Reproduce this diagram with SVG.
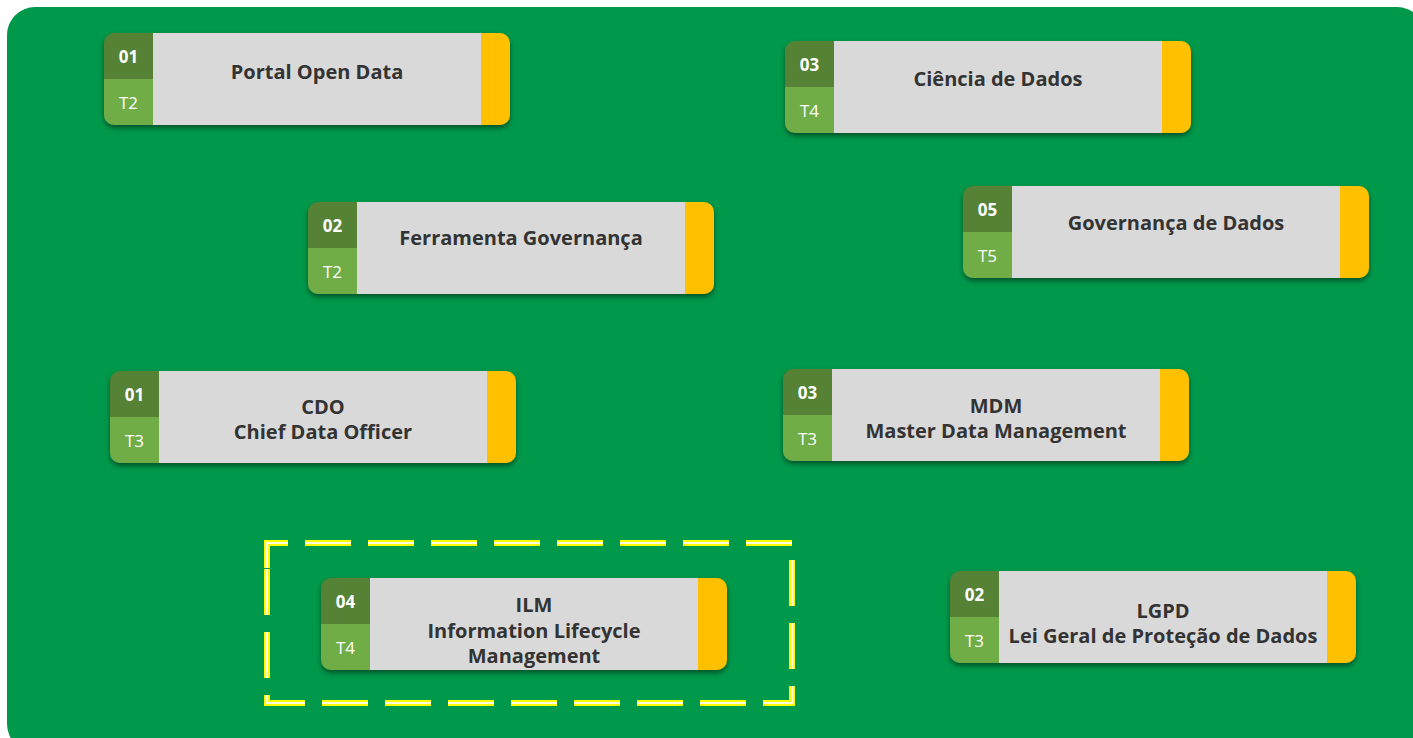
<svg xmlns="http://www.w3.org/2000/svg" width="1413" height="738" viewBox="0 0 1413 738">
<defs>
<filter id="sh" x="-5%" y="-10%" width="110%" height="130%">
<feDropShadow dx="0" dy="3" stdDeviation="2.5" flood-color="#000" flood-opacity="0.45"/>
</filter>
<g id="card">
<path d="M377 0H396A10 10 0 0 1 406 10V82A10 10 0 0 1 396 92H377Z" fill="#FFC000"/>
<rect x="49" y="0" width="328" height="92" fill="#D9D9D9"/>
<path d="M49 0H10A10 10 0 0 0 0 10V46H49Z" fill="#548235"/>
<path d="M0 46V82A10 10 0 0 0 10 92H49V46Z" fill="#70AD47"/>
</g>
</defs>
<style>
.num{font-family:"Open Sans","Noto Sans",sans-serif;font-weight:700;font-size:17px;fill:#fff;text-anchor:middle}
.tier{font-family:"Open Sans","Noto Sans",sans-serif;font-weight:400;font-size:17px;fill:#fff;text-anchor:middle}
.lbl{font-family:"Open Sans","Noto Sans",sans-serif;font-weight:700;font-size:20px;fill:#333;text-anchor:middle}
</style>
<rect x="0" y="0" width="1413" height="738" fill="#fff"/>
<rect x="7" y="7" width="1418" height="745" rx="28" fill="#00984A"/>

<g id="connectors">
<path d="M267 568V543H792V703H267Z" fill="none" stroke="#FFFF00" stroke-width="6" stroke-dasharray="46 17"/>
<path d="M267 568V543H792V703H267Z" fill="none" stroke="#FFFFE0" stroke-width="2" stroke-dasharray="46 17"/>
</g>

<g id="n1" transform="translate(104,33)">
<use href="#card" filter="url(#sh)"/>
<text class="num" x="24.5" y="30">01</text>
<text class="tier" x="24.5" y="76">T2</text>
<text class="lbl" x="213" y="46">Portal Open Data</text>
</g>

<g id="n2" transform="translate(785,41)">
<use href="#card" filter="url(#sh)"/>
<text class="num" x="24.5" y="30">03</text>
<text class="tier" x="24.5" y="76">T4</text>
<text class="lbl" x="213" y="45">Ciência de Dados</text>
</g>

<g id="n3" transform="translate(308,202)">
<use href="#card" filter="url(#sh)"/>
<text class="num" x="24.5" y="30">02</text>
<text class="tier" x="24.5" y="76">T2</text>
<text class="lbl" x="213" y="43">Ferramenta Governança</text>
</g>

<g id="n4" transform="translate(963,186)">
<use href="#card" filter="url(#sh)"/>
<text class="num" x="24.5" y="30">05</text>
<text class="tier" x="24.5" y="76">T5</text>
<text class="lbl" x="213" y="44">Governança de Dados</text>
</g>

<g id="n5" transform="translate(110,371)">
<use href="#card" filter="url(#sh)"/>
<text class="num" x="24.5" y="30">01</text>
<text class="tier" x="24.5" y="76">T3</text>
<text class="lbl" x="213" y="43">CDO</text>
<text class="lbl" x="213" y="68">Chief Data Officer</text>
</g>

<g id="n6" transform="translate(783,369)">
<use href="#card" filter="url(#sh)"/>
<text class="num" x="24.5" y="30">03</text>
<text class="tier" x="24.5" y="76">T3</text>
<text class="lbl" x="213" y="44">MDM</text>
<text class="lbl" x="213" y="69">Master Data Management</text>
</g>

<g id="n7" transform="translate(321,578)">
<use href="#card" filter="url(#sh)"/>
<text class="num" x="24.5" y="30">04</text>
<text class="tier" x="24.5" y="76">T4</text>
<text class="lbl" x="213" y="34">ILM</text>
<text class="lbl" x="213" y="60">Information Lifecycle</text>
<text class="lbl" x="213" y="85">Management</text>
</g>

<g id="n8" transform="translate(950,571)">
<use href="#card" filter="url(#sh)"/>
<text class="num" x="24.5" y="30">02</text>
<text class="tier" x="24.5" y="76">T3</text>
<text class="lbl" x="213" y="47">LGPD</text>
<text class="lbl" x="213" y="72">Lei Geral de Proteção de Dados</text>
</g>
</svg>
